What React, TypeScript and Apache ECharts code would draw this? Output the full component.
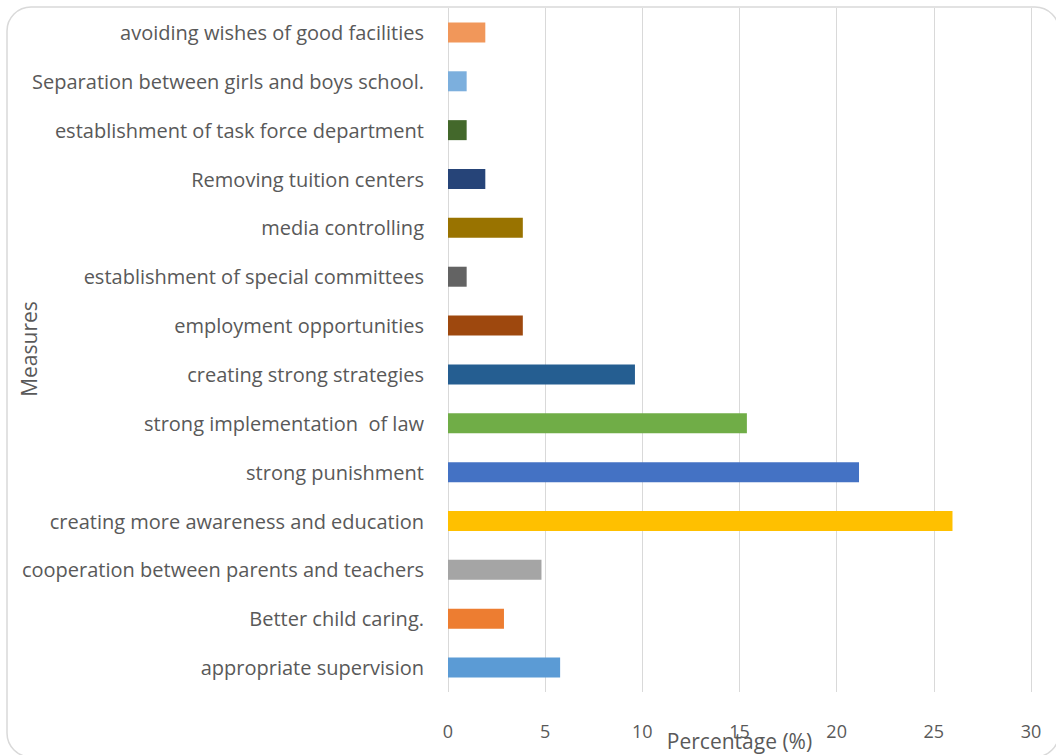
import React, { useEffect, useRef } from "react";
import * as echarts from "echarts";

const categories = [
  "appropriate supervision",
  "Better child caring.",
  "cooperation between parents and teachers",
  "creating more awareness and education",
  "strong punishment",
  "strong implementation  of law",
  "creating strong strategies",
  "employment opportunities",
  "establishment of special committees",
  "media controlling",
  "Removing tuition centers",
  "establishment of task force department",
  "Separation between girls and boys school.",
  "avoiding wishes of good facilities",
];

const values = [5.77, 2.88, 4.81, 25.96, 21.15, 15.38, 9.62, 3.85, 0.96, 3.85, 1.92, 0.96, 0.96, 1.92];

const barColors = [
  "#5B9BD5",
  "#ED7D31",
  "#A5A5A5",
  "#FFC000",
  "#4472C4",
  "#70AD47",
  "#255E91",
  "#9E480E",
  "#636363",
  "#997300",
  "#264478",
  "#43682B",
  "#7CAFDD",
  "#F1975A",
];

const xTicks = { min: 0, max: 30, interval: 5 };
const xTitle = "Percentage (%)";
const yTitle = "Measures";

const FONT = "'Open Sans', sans-serif";
const TEXT = "#595959";

export default function App() {
  const ref = useRef<HTMLDivElement>(null);
  useEffect(() => {
    if (!ref.current) return;
    const chart = echarts.init(ref.current, undefined, { renderer: "svg" });
    chart.setOption({
      animation: false,
      backgroundColor: "#ffffff",
      textStyle: { fontFamily: FONT },
      graphic: [
        {
          type: "rect",
          shape: { x: 7, y: 7, width: 1052, height: 750, r: 24 },
          style: { fill: "none", stroke: "#d9d9d9", lineWidth: 1.5 },
          silent: true,
          z: -1,
        },
        {
          type: "text",
          x: 29,
          y: 349,
          rotation: Math.PI / 2,
          style: {
            text: yTitle,
            fill: TEXT,
            font: `21px ${FONT}`,
            align: "center",
            verticalAlign: "middle",
          },
        },
      ],
      grid: {
        left: 448,
        top: 8,
        width: 583,
        height: 684,
        containLabel: false,
        outerBoundsMode: "none",
      },
      xAxis: {
        type: "value",
        min: xTicks.min,
        max: xTicks.max,
        interval: xTicks.interval,
        axisLine: { show: false },
        axisTick: { show: false },
        splitLine: { show: true, lineStyle: { color: "#d9d9d9", width: 1 } },
        axisLabel: { color: TEXT, fontSize: 18, margin: 30, fontFamily: FONT },
        name: xTitle,
        nameLocation: "middle",
        nameGap: 38,
        nameMoveOverlap: false,
        nameTextStyle: { color: TEXT, fontSize: 21, fontFamily: FONT },
      },
      yAxis: {
        type: "category",
        data: categories,
        axisLine: { show: false },
        axisTick: { show: false },
        splitLine: { show: false },
        axisLabel: { color: TEXT, fontSize: 20, margin: 24, fontFamily: FONT },
      },
      series: [
        {
          type: "bar",
          barWidth: 20,
          data: values.map((v, i) => ({ value: v, itemStyle: { color: barColors[i] } })),
        },
      ],
    });
    return () => chart.dispose();
  }, []);
  return (
    <div
      ref={ref}
      style={{ position: "absolute", left: 0, top: 0, width: 1056, height: 755 }}
    />
  );
}
